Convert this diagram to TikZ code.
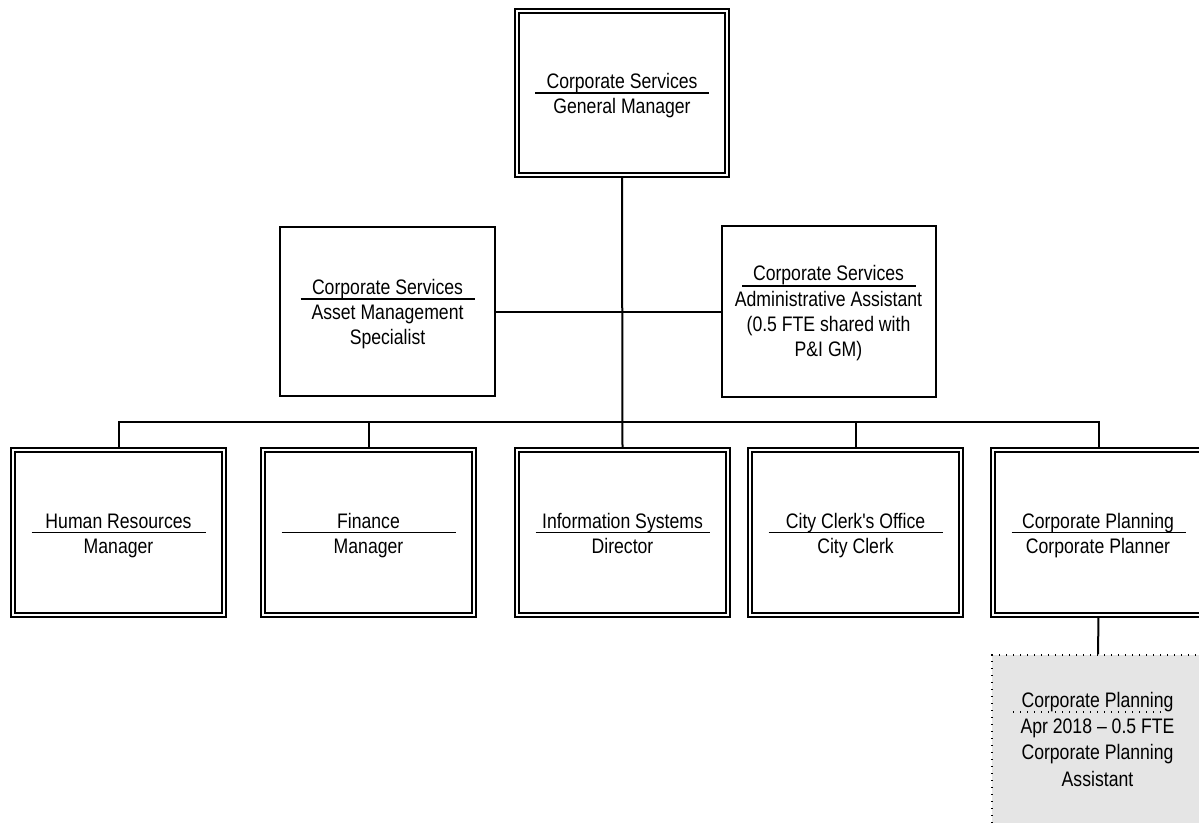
\documentclass[tikz,border=0pt]{standalone}
\usepackage{fontspec}
\setmainfont[FakeStretch=0.84, Ligatures=TeXOff]{Liberation Sans}
\usetikzlibrary{backgrounds}
\begin{document}
\begin{tikzpicture}[x=1pt,y=-1pt,
  dbox/.style={draw, double, double distance=2.6pt, line width=1.8pt,
    minimum width=211pt, minimum height=165pt, inner sep=0pt, fill=white},
  sbox/.style={draw, line width=1.6pt, inner sep=0pt, fill=white},
  notebox/.style={draw, line width=1.3pt, dash pattern=on 1.3pt off 5.7pt,
    fill=gray!20, inner sep=0pt, minimum width=212pt, minimum height=172pt},
  link/.style={line width=2pt},
  rulebar/.style={line width=1.6pt},
  dotrule/.style={line width=1.3pt, dash pattern=on 1.3pt off 5.7pt},
  ttl/.style={font=\fontsize{21}{25}\selectfont, anchor=base, inner sep=0pt},
  sub/.style={font=\fontsize{21}{25}\selectfont, anchor=north, inner sep=0pt, align=center},
  subnote/.style={font=\fontsize{21}{26.5}\selectfont, anchor=north, inner sep=0pt, align=center}
]
\useasboundingbox (0,0) rectangle (1199,822);

% General manager
\node[dbox, minimum width=210pt, minimum height=164pt] (gm) at (622,93) {};
\node[ttl] (gmT) at (622,88) {Corporate Services};
\draw[rulebar] ([xshift=-87pt]gm.center) -- ([xshift=87pt]gm.center);
\node[sub] (gmS) at (622,95.5) {\strut General Manager};

% Staff positions
\node[sbox, minimum width=215pt, minimum height=169pt] (asset) at (387.5,311.5) {};
\node[ttl] (assetT) at (387.5,294) {Corporate Services};
\draw[rulebar] ([shift={(-87,-12.5)}]asset.center) -- ([shift={(87,-12.5)}]asset.center);
\node[sub] (assetS) at (387.5,301.5) {\strut Asset Management\\\strut Specialist};

\node[sbox, minimum width=214pt, minimum height=171pt] (admin) at (829,311.5) {};
\node[ttl] (adminT) at (828.5,280.5) {Corporate Services};
\draw[rulebar] ([shift={(-87,-25.5)}]admin.center) -- ([shift={(87,-25.5)}]admin.center);
\node[sub] (adminS) at (828.5,288.5) {\strut Administrative Assistant\\\strut (0.5 FTE shared with\\\strut P\&I GM)};

% Departments
\node[dbox] (hr) at (118.5,532.5) {};
\node[ttl] (hrT) at (118.5,528) {Human Resources};
\draw[rulebar] ([xshift=-87pt]hr.center) -- ([xshift=87pt]hr.center);
\node[sub] (hrS) at (118.5,535.5) {\strut Manager};

\node[dbox] (fin) at (368.5,532.5) {};
\node[ttl] (finT) at (368.5,528) {Finance};
\draw[rulebar] ([xshift=-87pt]fin.center) -- ([xshift=87pt]fin.center);
\node[sub] (finS) at (368.5,535.5) {\strut Manager};

\node[dbox] (is) at (622.5,532.5) {};
\node[ttl] (isT) at (622.5,528) {Information Systems};
\draw[rulebar] ([xshift=-87pt]is.center) -- ([xshift=87pt]is.center);
\node[sub] (isS) at (622.5,535.5) {\strut Director};

\node[dbox] (cc) at (855.5,532.5) {};
\node[ttl] (ccT) at (855.5,528) {City Clerk's Office};
\draw[rulebar] ([xshift=-87pt]cc.center) -- ([xshift=87pt]cc.center);
\node[sub] (ccS) at (855.5,535.5) {\strut City Clerk};

\node[dbox] (cp) at (1098.5,532.5) {};
\node[ttl] (cpT) at (1098,528) {Corporate Planning};
\draw[rulebar] ([xshift=-87pt]cp.center) -- ([xshift=87pt]cp.center);
\node[sub] (cpS) at (1098,535.5) {\strut Corporate Planner};

% Part-time position
\node[notebox] (note) at (1098,741) {};
\node[ttl] (noteT) at (1097.5,707) {Corporate Planning};
\draw[dotrule] ([shift={(-85,-29)}]note.center) -- ([shift={(65,-29)}]note.center);
\node[subnote] (noteS) at (1097.5,714.5) {\strut Apr 2018 – 0.5 FTE\\\strut Corporate Planning\\\strut Assistant};

% Reporting lines
\begin{scope}[on background layer]
  \fill[white] (0,0) rectangle (1199,822);
  \coordinate (bus) at (0,422);
  \draw[link] (gm.south) -- (is.north);
  \draw[link] (hr.north) -- (hr.north |- bus) -- (cp.north |- bus) -- (cp.north);
  \draw[link] (fin.north) -- (fin.north |- bus);
  \draw[link] (cc.north) -- (cc.north |- bus);
  \draw[link] (asset.east) -- (admin.west);
  \draw[link] (cp.south) -- (note.north);
\end{scope}
\end{tikzpicture}
\end{document}
